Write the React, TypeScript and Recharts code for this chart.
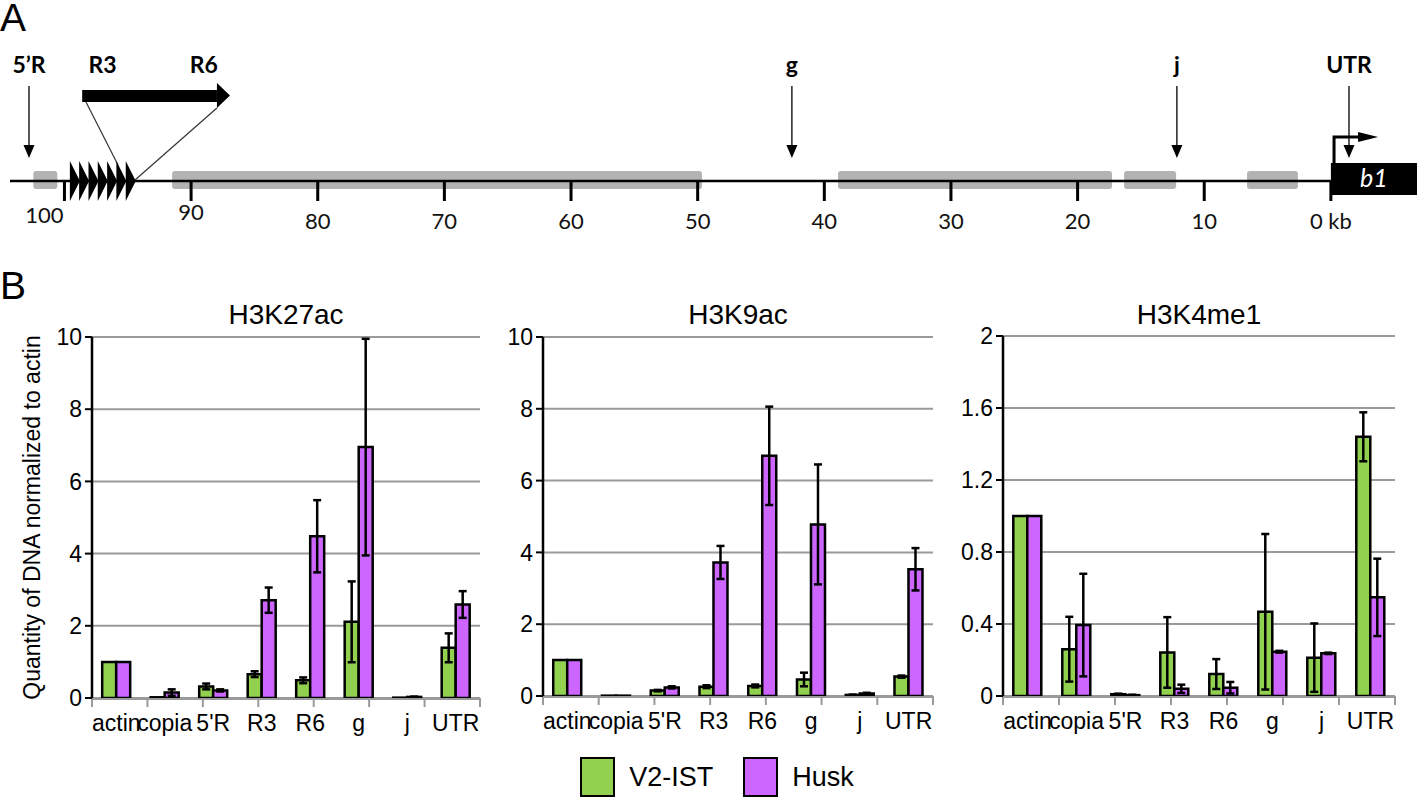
import React from 'react';
import {
  ComposedChart,
  Bar,
  XAxis,
  YAxis,
  CartesianGrid,
  ErrorBar,
  Legend,
  Label,
  ReferenceArea,
  ReferenceLine,
  ReferenceDot,
  Scatter,
} from 'recharts';

// ---------------- Panel A data (kb upstream of b1 TSS) ----------------
const KB_MIN = -6.8;
const KB_MAX = 104.3;
const kbTicks = [0, 10, 20, 30, 40, 50, 60, 70, 80, 90, 100];
const repeatBlockStarts = [102.46, 91.5, 38.92, 16.33, 6.62];
const repeatBlockEnds = [100.56, 49.66, 17.28, 12.22, 2.6];
const tandemRepeatUnits = [99.57, 98.84, 98.1, 97.37, 96.63, 95.9, 95.16];
const probeNames = ['5\u2019R', 'g', 'j', 'UTR'];
const probeKb = [102.8, 42.56, 12.16, -1.43];
const insetNames = ['R3', 'R6'];
const insetKb = [97.0, 89.0];
const insetArrowStart = 98.6;
const insetArrowNeck = 87.96;
const insetArrowTip = 86.93;
const tssKb = -0.25;
const geneEndKb = KB_MIN;

// ---------------- Panel B data ----------------
const categories = ['actin', 'copia', "5'R", 'R3', 'R6', 'g', 'j', 'UTR'];
const seriesNames = ['V2-IST', 'Husk'];
const GREEN = '#92D050';
const PURPLE = '#CC66FF';

const k27V2 = [1, 0.02, 0.32, 0.66, 0.49, 2.11, 0.01, 1.39];
const k27V2Err = [0, 0, 0.08, 0.08, 0.08, 1.12, 0, 0.4];
const k27Husk = [1, 0.15, 0.21, 2.71, 4.48, 6.95, 0.03, 2.59];
const k27HuskErr = [0, 0.09, 0.03, 0.35, 1.0, 3.0, 0.01, 0.37];

const k9V2 = [1, 0.01, 0.15, 0.26, 0.28, 0.46, 0.03, 0.54];
const k9V2Err = [0, 0, 0.02, 0.04, 0.04, 0.19, 0.01, 0.03];
const k9Husk = [1, 0.01, 0.24, 3.72, 6.69, 4.78, 0.07, 3.53];
const k9HuskErr = [0, 0, 0.03, 0.46, 1.37, 1.67, 0.02, 0.59];

const k4V2 = [1, 0.26, 0.01, 0.242, 0.122, 0.468, 0.213, 1.44];
const k4V2Err = [0, 0.18, 0.003, 0.196, 0.083, 0.432, 0.19, 0.136];
const k4Husk = [1, 0.394, 0.005, 0.04, 0.046, 0.246, 0.237, 0.548];
const k4HuskErr = [0, 0.285, 0.002, 0.023, 0.032, 0.005, 0.004, 0.215];

const yTicks10 = [0, 2, 4, 6, 8, 10];
const yTicks2 = [0, 0.4, 0.8, 1.2, 1.6, 2];
const boundaryTicks = [0, 1, 2, 3, 4, 5, 6, 7, 8];

const buildData = (v2: number[], v2e: number[], h: number[], he: number[]) =>
  categories.map((cat, i) => ({ cat, v2: v2[i], v2Err: v2e[i], husk: h[i], huskErr: he[i] }));

const FONT_B = '"Liberation Sans", Arial, sans-serif';
const FONT_A = 'Lato, "Open Sans", sans-serif';

// ---------------- shapes ----------------
const TriangleShape = (p: any) => (
  <polygon points={`${p.cx},${p.cy - 20} ${p.cx + 10},${p.cy} ${p.cx},${p.cy + 20}`} fill="#000" />
);

const ProbeShape = (p: any) => {
  const name = p.payload?.name ?? p.name;
  const { cx, cy } = p;
  return (
    <g>
      <line x1={cx} y1={cy - 72} x2={cx} y2={cy - 12} stroke="#000" strokeWidth={1.3} />
      <polygon points={`${cx - 5.5},${cy - 13} ${cx + 5.5},${cy - 13} ${cx},${cy}`} fill="#000" />
      <text x={cx} y={cy - 85} textAnchor="middle" fontWeight="bold" fontSize={23} fill="#000">
        {name}
      </text>
    </g>
  );
};

const InsetLabelShape = (p: any) => (
  <text x={p.cx} y={p.cy} textAnchor="middle" fontWeight="bold" fontSize={23} fill="#000">
    {p.payload?.name ?? p.name}
  </text>
);

const ArrowHeadShape = (p: any) => (
  <polygon
    points={`${p.x},${p.y} ${p.x + p.width},${p.y + p.height / 2} ${p.x},${p.y + p.height}`}
    fill="#000"
  />
);

const TssShape = (p: any) => {
  const { cx, cy } = p;
  return (
    <g>
      <path d={`M${cx},${cy} V${cy - 26} H${cx + 26}`} stroke="#000" strokeWidth={3} fill="none" />
      <polygon points={`${cx + 24},${cy - 31} ${cx + 44},${cy - 26} ${cx + 24},${cy - 21}`} fill="#000" />
    </g>
  );
};

const GeneShape = (p: any) => (
  <g>
    <rect x={p.x} y={p.y} width={p.width} height={p.height} fill="#000" />
    <text
      x={p.x + p.width / 2}
      y={p.y + p.height / 2 + 8}
      textAnchor="middle"
      fill="#fff"
      fontStyle="italic"
      fontSize={25}
    >
      b1
    </text>
  </g>
);

// small label nudges seen in the original drawing
const kbLabelDx: Record<number, number> = { 100: -20 };
const kbLabelDy: Record<number, number> = { 100: -6, 90: -9 };
const KbTick = (p: any) => {
  const v = p.payload?.value;
  const label = v === 0 ? '0 kb' : String(v);
  return (
    <text
      x={p.x + (kbLabelDx[v] || 0)}
      y={p.y + (kbLabelDy[v] || 0)}
      dy="0.71em"
      textAnchor="middle"
      fontSize={22}
      fill="#111"
    >
      {label}
    </text>
  );
};

// ---------------- Panel B helpers ----------------
const YLabel = (props: any) => {
  const vb = props.viewBox || { x: 0, y: 0, height: 0 };
  const cx = vb.x + 32;
  const cy = vb.y + vb.height / 2;
  return (
    <text
      x={cx}
      y={cy}
      transform={`rotate(-90 ${cx} ${cy})`}
      textAnchor="middle"
      dominantBaseline="central"
      fontSize={23}
      fill="#000"
    >
      Quantity of DNA normalized to actin
    </text>
  );
};

const seriesColors = [GREEN, PURPLE];
const LegendContent = (props: any) => {
  const payload = [...(props.payload || [])].sort(
    (a: any, b: any) => seriesNames.indexOf(a.value) - seriesNames.indexOf(b.value)
  );
  return (
    <div
      style={{
        display: 'flex',
        alignItems: 'center',
        justifyContent: 'center',
        fontFamily: FONT_B,
        fontSize: 27,
        color: '#000',
      }}
    >
      {payload.map((p: any, i: number) => (
        <div key={i} style={{ display: 'flex', alignItems: 'center', marginLeft: i ? 30 : 0 }}>
          <div
            style={{
              width: 35,
              height: 40,
              background: p.color || seriesColors[i],
              border: '2.5px solid #000',
              boxSizing: 'border-box',
            }}
          />
          <span style={{ marginLeft: 14 }}>{p.value}</span>
        </div>
      ))}
    </div>
  );
};

type PanelProps = {
  title: string;
  data: any[];
  left: number;
  top: number;
  width: number;
  height: number;
  yAxisWidth: number;
  domain: [number, number];
  ticks: number[];
  yLabel?: boolean;
  legend?: boolean;
};

function BarPanel(props: PanelProps) {
  const { title, data, left, top, width, height, yAxisWidth, domain, ticks, yLabel, legend } = props;
  const plotLeft = left + yAxisWidth;
  const plotRight = left + width - 20;
  const center = (plotLeft + plotRight) / 2;
  return (
    <>
      <div
        style={{
          position: 'absolute',
          left: center - 150,
          top: 300,
          width: 300,
          textAlign: 'center',
          fontFamily: FONT_B,
          fontSize: 28,
          lineHeight: '30px',
          color: '#000',
        }}
      >
        {title}
      </div>
      <div style={{ position: 'absolute', left, top, fontFamily: FONT_B }}>
        <ComposedChart
          width={width}
          height={height}
          data={data}
          margin={{ top: 37, right: 20, bottom: 1, left: 0 }}
          barCategoryGap="21%"
          barGap={0}
        >
          <CartesianGrid xAxisId="cat" horizontal vertical={false} stroke="#9a9a9a" strokeWidth={2} />
          <XAxis
            xAxisId="bounds"
            type="number"
            domain={[0, 8]}
            ticks={boundaryTicks}
            interval={0}
            tickFormatter={() => ''}
            tick={{ fontSize: 1, fill: 'none' }}
            axisLine={false}
            tickLine={{ stroke: '#9a9a9a', strokeWidth: 2 }}
            tickSize={9}
            tickMargin={0}
            height={1}
          />
          <XAxis
            xAxisId="cat"
            dataKey="cat"
            height={40}
            tickLine={false}
            tickSize={0}
            tickMargin={16}
            interval={0}
            axisLine={{ stroke: '#9a9a9a', strokeWidth: 2 }}
            tick={{ fontSize: 23, fill: '#000' }}
          />
          <YAxis
            width={yAxisWidth}
            domain={domain}
            ticks={ticks}
            interval={0}
            tick={{ fontSize: 23, fill: '#000' }}
            tickSize={7}
            tickMargin={3}
            axisLine={{ stroke: '#000', strokeWidth: 2.5 }}
            tickLine={{ stroke: '#000', strokeWidth: 2 }}
            label={yLabel ? <Label content={YLabel} /> : undefined}
          />
          <Bar xAxisId="cat" dataKey="v2" name={seriesNames[0]} fill={GREEN} stroke="#000" strokeWidth={2.5} isAnimationActive={false}>
            <ErrorBar dataKey="v2Err" width={4} stroke="#000" strokeWidth={2.5} />
          </Bar>
          <Bar xAxisId="cat" dataKey="husk" name={seriesNames[1]} fill={PURPLE} stroke="#000" strokeWidth={2.5} isAnimationActive={false}>
            <ErrorBar dataKey="huskErr" width={4} stroke="#000" strokeWidth={2.5} />
          </Bar>
          {legend && (
            <Legend
              layout="horizontal"
              verticalAlign="middle"
              align="center"
              content={LegendContent}
              wrapperStyle={{ left: -3, top: 457, width: 480, height: 42 }}
            />
          )}
        </ComposedChart>
      </div>
    </>
  );
}

function GenomeMap() {
  const probes = probeNames.map((name, i) => ({ name, kb: probeKb[i], y: 23 }));
  const insetLabels = insetNames.map((name, i) => ({ name, kb: insetKb[i], y: 108 }));
  const repeats = tandemRepeatUnits.map((kb) => ({ kb, y: 0 }));
  return (
    <div style={{ position: 'absolute', left: 0, top: 0, fontFamily: FONT_A }}>
      <ComposedChart width={1417} height={250} margin={{ top: 0, right: 0, bottom: 0, left: 10 }}>
        <XAxis
          dataKey="kb"
          type="number"
          domain={[KB_MIN, KB_MAX]}
          reversed
          ticks={kbTicks}
          interval={0}
          axisLine={false}
          tickLine={{ stroke: '#000', strokeWidth: 3 }}
          tickSize={20}
          tickMargin={12}
          tick={KbTick}
          height={69}
        />
        <YAxis dataKey="y" type="number" domain={[0, 181]} hide />
        {repeatBlockStarts.map((s, i) => (
          <ReferenceArea
            key={'rb' + i}
            x1={s}
            x2={repeatBlockEnds[i]}
            y1={-8}
            y2={10}
            fill="#B3B3B3"
            fillOpacity={1}
            stroke="none"
            radius={3}
            ifOverflow="visible"
          />
        ))}
        <ReferenceLine
          segment={[
            { x: KB_MAX, y: 0 },
            { x: 0, y: 0 },
          ]}
          stroke="#000"
          strokeWidth={2.5}
          ifOverflow="visible"
        />
        <ReferenceArea
          x1={insetArrowStart}
          x2={insetArrowNeck}
          y1={79}
          y2={91}
          fill="#000"
          fillOpacity={1}
          stroke="none"
          ifOverflow="visible"
        />
        <ReferenceArea
          x1={insetArrowNeck}
          x2={insetArrowTip}
          y1={73}
          y2={98}
          ifOverflow="visible"
          shape={ArrowHeadShape}
        />
        <ReferenceLine
          segment={[
            { x: 98.3, y: 79 },
            { x: 95.77, y: 16 },
          ]}
          stroke="#333"
          strokeWidth={1.2}
          ifOverflow="visible"
        />
        <ReferenceLine
          segment={[
            { x: insetArrowNeck, y: 73 },
            { x: 94.43, y: 1 },
          ]}
          stroke="#333"
          strokeWidth={1.2}
          ifOverflow="visible"
        />
        <ReferenceArea x1={0} x2={geneEndKb} y1={-14} y2={18} ifOverflow="visible" shape={GeneShape} />
        <ReferenceDot x={tssKb} y={18} r={0} ifOverflow="visible" shape={TssShape} />
        <Scatter data={repeats} shape={TriangleShape} isAnimationActive={false} />
        <Scatter data={probes} shape={ProbeShape} isAnimationActive={false} />
        <Scatter data={insetLabels} shape={InsetLabelShape} isAnimationActive={false} />
      </ComposedChart>
    </div>
  );
}

export default function App() {
  const d27 = buildData(k27V2, k27V2Err, k27Husk, k27HuskErr);
  const d9 = buildData(k9V2, k9V2Err, k9Husk, k9HuskErr);
  const d4 = buildData(k4V2, k4V2Err, k4Husk, k4HuskErr);
  const letter: React.CSSProperties = {
    position: 'absolute',
    left: 0,
    fontFamily: FONT_B,
    fontSize: 39,
    lineHeight: '39px',
    color: '#000',
  };
  return (
    <div
      style={{
        position: 'absolute',
        left: 0,
        top: 0,
        width: 1417,
        height: 799,
        background: '#fff',
        overflow: 'hidden',
      }}
    >
      <div style={{ ...letter, top: -2 }}>A</div>
      <div style={{ ...letter, top: 266 }}>B</div>
      <GenomeMap />
      <BarPanel title="H3K27ac" data={d27} left={0} top={300} width={500} height={440} yAxisWidth={92} domain={[0, 10]} ticks={yTicks10} yLabel />
      <BarPanel title="H3K9ac" data={d9} left={480} top={300} width={473} height={438} yAxisWidth={63} domain={[0, 10]} ticks={yTicks10} legend />
      <BarPanel title="H3K4me1" data={d4} left={940} top={299} width={475} height={439} yAxisWidth={63} domain={[0, 2]} ticks={yTicks2} />
    </div>
  );
}
